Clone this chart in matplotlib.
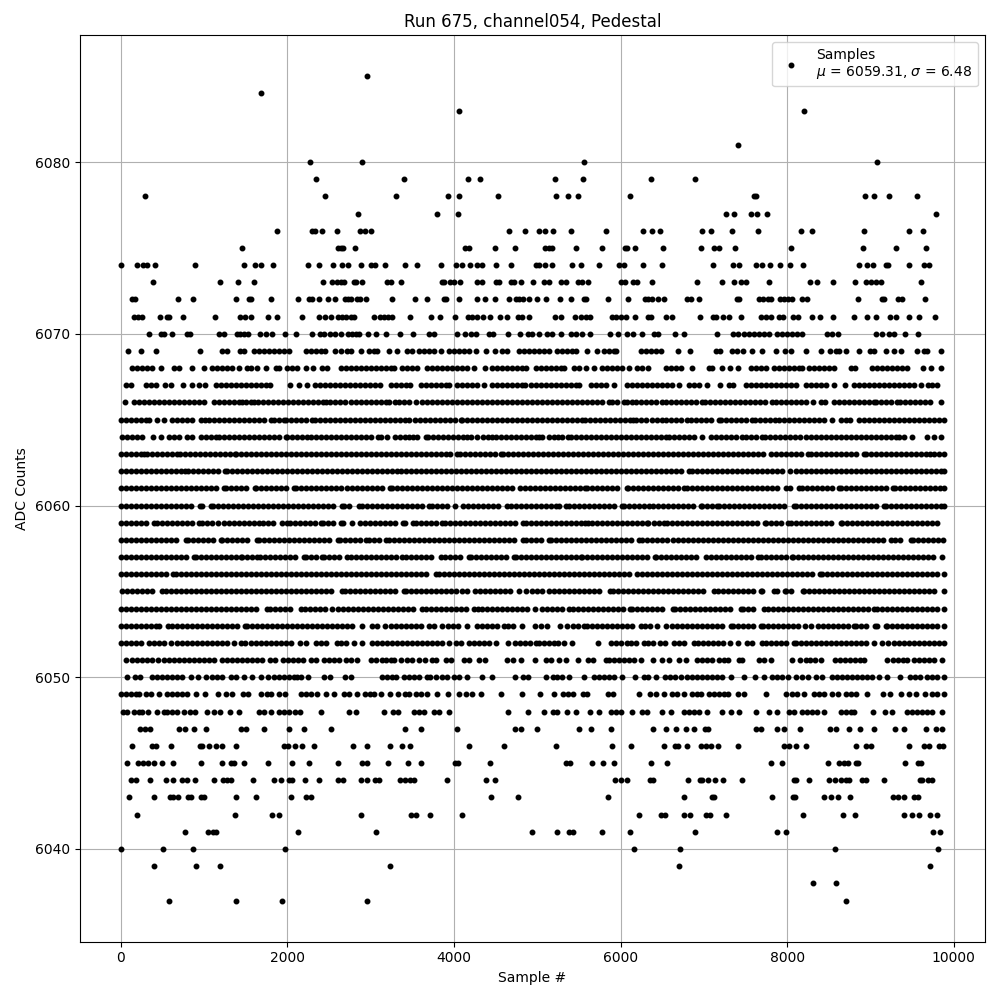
import numpy as np
import matplotlib
matplotlib.use('Agg')
import matplotlib.pyplot as plt

# Amostras, uma lista por nivel de ADC
s6085 = [2960]
s6084 = [1688]
s6083 = [4064, 8204]
s6081 = [7412]
s6080 = [2276, 2900, 5564, 9080]
s6079 = [2348, 3404, 4172, 4316, 5216, 5552, 6368, 6896]
s6078 = [296, 2456, 3308, 3932, 4064, 4532, 5228, 5372, 5492, 6116, 7604, 7624, 8936, 9044, 9224, 9560]
s6077 = [2852, 3800, 4052, 7268, 7364, 7568, 7640, 7760, 9788]
s6076 = [1880, 2300, 2332, 2420, 2600, 2876, 2928, 3008, 4664, 4856, 5024, 5096, 5192, 5408, 5828, 6272, 6380, 6476, 6980, 7088, 7340, 7652, 8168, 8300, 8924, 9464, 9632]
s6075 = [1460, 2612, 2644, 2668, 2816, 4136, 4184, 4496, 4736, 5096, 5140, 5180, 5468, 5780, 6052, 6072, 6176, 6512, 6968, 7124, 7184, 7376, 8048, 8912, 9308, 9668]
s6074 = [0, 200, 272, 320, 416, 896, 1484, 1616, 1688, 1832, 2252, 2384, 2552, 2660, 2732, 2888, 3008, 3056, 3176, 3416, 3560, 3848, 4028, 4100, 4196, 4280, 4340, 4500, 4688, 4980, 5020, 5096, 5180, 5420, 5528, 5744, 5984, 6044, 6272, 6500, 7112, 7352, 7420, 7628, 7700, 7796, 7916, 8036, 8192, 8864, 8960, 9032, 9180, 9212, 9464, 9644, 9704]
s6073 = [392, 1196, 1412, 1604, 2432, 2540, 2600, 2648, 2680, 2804, 2828, 2900, 3200, 3248, 3368, 3860, 3884, 3956, 4004, 4076, 4280, 4340, 4500, 4540, 4680, 4720, 4808, 4952, 5084, 5144, 5288, 5348, 5492, 5540, 5612, 6008, 6048, 6152, 6192, 6380, 6920, 7220, 7364, 7448, 7508, 7784, 8276, 8360, 8552, 8816, 8948, 9008, 9060, 9128, 9608]
s6072 = [140, 172, 684, 872, 1388, 1544, 1568, 1808, 2132, 2264, 2300, 2384, 2492, 2576, 2696, 2732, 2768, 2840, 2872, 2948, 3260, 3532, 3680, 3884, 3908, 4064, 4280, 4376, 4496, 4660, 4740, 4780, 4832, 4904, 4996, 5108, 5276, 5404, 5564, 5588, 5852, 6092, 6296, 6332, 6380, 6452, 6520, 6800, 6848, 6944, 7400, 7420, 7664, 7712, 7772, 7808, 7916, 7964, 8012, 8060, 8180, 8240, 8852, 9140, 9164, 9332, 9380, 9656]
s6071 = [160, 212, 260, 476, 560, 584, 752, 1136, 1436, 1496, 1568, 1772, 1880, 2180, 2384, 2456, 2528, 2612, 2660, 2700, 2768, 2800, 3044, 3116, 3164, 3212, 3260, 3476, 3728, 3836, 4016, 4172, 4220, 4280, 4352, 4436, 4556, 4640, 4772, 4820, 4900, 5216, 5288, 5456, 5528, 5588, 5636, 5900, 5948, 6000, 6068, 6176, 6332, 6364, 6548, 6620, 6956, 7112, 7148, 7232, 7304, 7448, 7688, 7748, 7808, 7904, 7952, 8072, 8132, 8300, 8392, 8552, 8804, 8960, 9068, 9236, 9308, 9464, 9584, 9776]
s6070 = [344, 488, 524, 620, 800, 836, 1184, 1244, 1400, 1436, 1484, 1532, 1676, 1748, 1820, 1976, 2108, 2300, 2396, 2444, 2516, 2576, 2648, 2732, 2780, 2828, 2864, 2972, 3068, 3188, 3356, 3512, 3704, 3764, 4040, 4136, 4208, 4268, 4424, 4472, 4652, 4796, 4892, 4940, 5020, 5120, 5180, 5280, 5400, 5460, 5540, 5636, 5876, 5964, 6080, 6152, 6260, 6404, 6452, 6656, 6764, 7160, 7352, 7412, 7484, 7544, 7604, 7664, 7724, 7784, 7880, 7940, 8000, 8060, 8120, 8180, 8480, 8540, 8612, 9060, 9140, 9220, 9280, 9412, 9572]
s6069 = [92, 240, 428, 956, 1220, 1280, 1432, 1484, 1600, 1660, 1720, 1780, 1840, 1900, 1960, 2020, 2220, 2280, 2340, 2400, 2452, 2572, 2640, 2720, 2768, 2880, 2980, 3040, 3080, 3220, 3320, 3440, 3500, 3580, 3640, 3700, 3760, 3840, 3940, 4000, 4060, 4120, 4180, 4260, 4380, 4488, 4580, 4640, 4780, 4840, 4900, 4960, 5020, 5080, 5140, 5240, 5300, 5360, 5420, 5460, 5600, 5712, 5800, 5860, 5920, 5948, 6240, 6300, 6360, 6420, 6480, 6692, 6836, 7140, 7188, 7340, 7400, 7472, 7572, 7692, 7860, 7972, 8040, 8220, 8408, 8512, 8580, 8620, 8700, 8860, 8988, 9040, 9188, 9284, 9368, 9560, 9640, 9680, 9848]
s6068 = [140, 200, 260, 320, 380, 488, 640, 700, 860, 1004, 1100, 1160, 1220, 1280, 1340, 1420, 1520, 1560, 1640, 1748, 1860, 1900, 2000, 2060, 2120, 2220, 2312, 2420, 2472, 2640, 2700, 2760, 2820, 2880, 2940, 3000, 3060, 3120, 3180, 3240, 3280, 3380, 3440, 3500, 3560, 3680, 3740, 3800, 3860, 3920, 3980, 4040, 4100, 4160, 4240, 4368, 4460, 4520, 4580, 4640, 4700, 4760, 4820, 4860, 4980, 5040, 5100, 5160, 5220, 5280, 5320, 5440, 5500, 5580, 5680, 5780, 5840, 5900, 5960, 6020, 6100, 6200, 6260, 6332, 6548, 6600, 6660, 6720, 6860, 7060, 7100, 7212, 7312, 7412, 7560, 7620, 7680, 7740, 7840, 7900, 7960, 8020, 8080, 8140, 8180, 8260, 8320, 8380, 8440, 8500, 8560, 8760, 8812, 9020, 9080, 9140, 9200, 9260, 9320, 9380, 9440, 9632, 9720, 9840]
s6067 = [60, 120, 300, 360, 420, 532, 600, 752, 860, 940, 1016, 1140, 1200, 1260, 1320, 1380, 1440, 1500, 1560, 1620, 1680, 1740, 1792, 2036, 2144, 2240, 2332, 2392, 2452, 2512, 2572, 2632, 2692, 2752, 2812, 2872, 2932, 2992, 3052, 3108, 3240, 3300, 3360, 3420, 3468, 3600, 3660, 3720, 3780, 3840, 3900, 3940, 4040, 4100, 4160, 4220, 4280, 4360, 4452, 4512, 4572, 4632, 4692, 4752, 4812, 4852, 4920, 4980, 5040, 5100, 5160, 5220, 5280, 5340, 5400, 5460, 5500, 5640, 5700, 5760, 5820, 5920, 6080, 6140, 6200, 6260, 6320, 6380, 6440, 6500, 6560, 6620, 6700, 6820, 6880, 6940, 7040, 7188, 7300, 7348, 7500, 7560, 7620, 7680, 7740, 7800, 7860, 7920, 7980, 8040, 8100, 8220, 8280, 8340, 8400, 8460, 8564, 8692, 8800, 8860, 8920, 8980, 9040, 9100, 9160, 9220, 9280, 9340, 9400, 9460, 9520, 9608, 9692, 9740, 9800]
s6066 = [48, 160, 220, 280, 340, 400, 460, 520, 580, 640, 700, 760, 820, 880, 940, 1000, 1116, 1180, 1240, 1300, 1360, 1420, 1460, 1500, 1560, 1600, 1652, 1712, 1772, 1832, 1892, 1952, 2012, 2072, 2132, 2192, 2252, 2312, 2372, 2432, 2460, 2508, 2568, 2628, 2688, 2760, 2820, 2880, 2940, 3000, 3060, 3120, 3180, 3220, 3288, 3340, 3400, 3460, 3540, 3612, 3672, 3732, 3792, 3852, 3912, 3972, 4032, 4092, 4152, 4212, 4272, 4332, 4392, 4452, 4512, 4572, 4632, 4692, 4752, 4812, 4872, 4932, 4992, 5052, 5112, 5172, 5240, 5292, 5352, 5412, 5472, 5532, 5592, 5652, 5712, 5772, 5860, 5900, 5960, 6040, 6080, 6140, 6180, 6240, 6300, 6360, 6420, 6500, 6540, 6600, 6660, 6720, 6780, 6840, 6900, 6980, 7012, 7072, 7132, 7192, 7252, 7312, 7372, 7432, 7492, 7552, 7612, 7672, 7732, 7812, 7860, 7920, 7980, 8040, 8100, 8160, 8220, 8308, 8400, 8452, 8560, 8620, 8680, 8740, 8800, 8860, 8920, 8980, 9040, 9060, 9120, 9180, 9240, 9320, 9348, 9408, 9468, 9528, 9588, 9648, 9712, 9840]
s6065 = [0, 60, 120, 180, 240, 300, 340, 440, 520, 620, 680, 740, 800, 852, 960, 1012, 1060, 1120, 1180, 1240, 1300, 1360, 1420, 1480, 1540, 1600, 1660, 1720, 1800, 1840, 1900, 1960, 1988, 2048, 2108, 2168, 2228, 2292, 2332, 2392, 2452, 2512, 2572, 2632, 2692, 2752, 2812, 2872, 2932, 2992, 3052, 3112, 3172, 3232, 3292, 3352, 3412, 3460, 3528, 3588, 3648, 3708, 3768, 3828, 3888, 3948, 4008, 4080, 4100, 4160, 4220, 4280, 4340, 4400, 4460, 4520, 4580, 4640, 4700, 4760, 4820, 4880, 4940, 5000, 5060, 5120, 5180, 5240, 5300, 5360, 5420, 5480, 5532, 5572, 5632, 5692, 5752, 5812, 5872, 5932, 5992, 6052, 6112, 6148, 6180, 6240, 6300, 6380, 6440, 6500, 6540, 6600, 6660, 6720, 6800, 6840, 6900, 6960, 7020, 7080, 7180, 7200, 7260, 7320, 7380, 7440, 7500, 7580, 7612, 7672, 7732, 7792, 7852, 7900, 7964, 8020, 8080, 8140, 8200, 8260, 8320, 8380, 8440, 8532, 8640, 8700, 8756, 8860, 8920, 8980, 9040, 9100, 9160, 9220, 9280, 9340, 9400, 9460, 9520, 9580, 9640, 9700, 9760, 9820, 9880]
s6064 = [12, 72, 132, 192, 260, 388, 488, 580, 640, 700, 800, 860, 960, 1020, 1080, 1140, 1180, 1240, 1300, 1360, 1420, 1480, 1540, 1600, 1660, 1720, 1780, 1840, 1900, 1980, 2000, 2060, 2120, 2180, 2240, 2288, 2348, 2408, 2468, 2528, 2588, 2648, 2708, 2768, 2828, 2888, 2948, 3008, 3092, 3120, 3200, 3292, 3352, 3412, 3460, 3512, 3560, 3660, 3692, 3752, 3812, 3872, 3932, 3992, 4052, 4112, 4160, 4200, 4280, 4352, 4412, 4460, 4500, 4560, 4620, 4680, 4740, 4800, 4860, 4920, 4980, 5020, 5060, 5140, 5200, 5252, 5300, 5372, 5400, 5460, 5520, 5580, 5640, 5700, 5760, 5820, 5880, 5940, 6000, 6060, 6120, 6180, 6240, 6300, 6360, 6420, 6480, 6540, 6580, 6640, 6700, 6760, 6820, 6880, 6980, 7080, 7140, 7200, 7260, 7320, 7380, 7452, 7500, 7560, 7620, 7700, 7732, 7792, 7852, 7912, 7972, 8032, 8092, 8152, 8220, 8280, 8348, 8408, 8468, 8528, 8588, 8648, 8708, 8768, 8828, 8888, 8948, 9008, 9068, 9128, 9188, 9248, 9300, 9340, 9400, 9500, 9680, 9760, 9840]
s6063 = [0, 60, 120, 180, 240, 280, 312, 372, 432, 492, 552, 612, 680, 708, 768, 828, 888, 948, 1008, 1068, 1128, 1188, 1248, 1308, 1372, 1388, 1448, 1508, 1568, 1628, 1688, 1748, 1808, 1868, 1928, 1988, 2048, 2108, 2168, 2228, 2288, 2348, 2408, 2468, 2528, 2588, 2648, 2700, 2760, 2820, 2880, 2940, 3000, 3060, 3120, 3180, 3240, 3300, 3360, 3420, 3480, 3540, 3600, 3660, 3720, 3780, 3840, 3900, 3948, 4040, 4068, 4128, 4188, 4248, 4308, 4368, 4428, 4488, 4560, 4588, 4648, 4708, 4768, 4828, 4888, 4948, 5008, 5068, 5128, 5188, 5248, 5308, 5368, 5428, 5488, 5548, 5608, 5668, 5728, 5788, 5848, 5908, 5968, 6028, 6088, 6148, 6208, 6268, 6328, 6388, 6448, 6508, 6568, 6628, 6688, 6748, 6808, 6868, 6928, 6988, 7048, 7108, 7168, 7228, 7288, 7348, 7408, 7468, 7528, 7588, 7648, 7708, 7800, 7868, 7928, 7988, 8048, 8108, 8168, 8252, 8280, 8340, 8400, 8460, 8520, 8580, 8640, 8700, 8760, 8820, 8920, 8948, 9008, 9068, 9128, 9188, 9248, 9308, 9368, 9428, 9488, 9548, 9608, 9668, 9712, 9760, 9820, 9880]
s6062 = [0, 60, 120, 180, 240, 300, 360, 420, 480, 540, 600, 660, 720, 768, 812, 872, 932, 992, 1052, 1112, 1172, 1252, 1280, 1340, 1400, 1460, 1520, 1580, 1640, 1700, 1760, 1820, 1880, 1940, 2000, 2060, 2120, 2180, 2240, 2300, 2360, 2420, 2480, 2540, 2600, 2660, 2720, 2780, 2840, 2900, 2960, 3020, 3080, 3140, 3200, 3260, 3320, 3360, 3420, 3480, 3540, 3600, 3660, 3720, 3780, 3840, 3900, 3960, 4020, 4080, 4140, 4200, 4260, 4320, 4380, 4440, 4500, 4560, 4620, 4680, 4740, 4800, 4860, 4920, 4980, 5040, 5100, 5160, 5220, 5280, 5340, 5400, 5460, 5520, 5580, 5640, 5700, 5760, 5820, 5880, 5940, 6000, 6060, 6120, 6180, 6240, 6300, 6360, 6420, 6480, 6540, 6600, 6660, 6720, 6820, 6852, 6912, 6972, 7032, 7092, 7152, 7212, 7272, 7332, 7392, 7452, 7512, 7572, 7632, 7692, 7752, 7812, 7872, 7932, 8028, 8100, 8160, 8220, 8280, 8340, 8400, 8460, 8520, 8580, 8640, 8700, 8760, 8820, 8880, 8940, 9000, 9060, 9120, 9180, 9240, 9300, 9360, 9420, 9480, 9540, 9600, 9660, 9720, 9780, 9840, 9880]
s6061 = [0, 60, 120, 180, 240, 300, 360, 420, 480, 540, 600, 660, 720, 780, 840, 900, 960, 1020, 1080, 1140, 1240, 1268, 1328, 1388, 1448, 1508, 1612, 1628, 1688, 1748, 1808, 1868, 1928, 1988, 2080, 2108, 2168, 2228, 2288, 2348, 2408, 2468, 2528, 2588, 2648, 2720, 2772, 2832, 2892, 2952, 3012, 3072, 3132, 3228, 3260, 3320, 3380, 3440, 3500, 3560, 3620, 3680, 3740, 3800, 3860, 3920, 3980, 4040, 4100, 4160, 4220, 4280, 4340, 4400, 4460, 4520, 4580, 4640, 4700, 4788, 4852, 4912, 4972, 5032, 5092, 5152, 5212, 5272, 5332, 5392, 5452, 5512, 5572, 5600, 5660, 5720, 5780, 5840, 5900, 5960, 6072, 6092, 6152, 6212, 6272, 6332, 6392, 6452, 6512, 6572, 6632, 6692, 6760, 6800, 6860, 6920, 6980, 7040, 7100, 7160, 7220, 7280, 7340, 7400, 7460, 7520, 7580, 7640, 7700, 7760, 7820, 7880, 7980, 8028, 8140, 8172, 8232, 8292, 8352, 8412, 8472, 8532, 8620, 8640, 8700, 8760, 8820, 8880, 8940, 9000, 9060, 9120, 9180, 9268, 9292, 9352, 9412, 9472, 9532, 9592, 9652, 9712, 9772, 9832, 9880]
s6060 = [0, 60, 120, 180, 240, 300, 360, 420, 480, 540, 600, 660, 720, 780, 840, 952, 972, 1088, 1112, 1172, 1232, 1292, 1352, 1412, 1472, 1532, 1592, 1652, 1712, 1772, 1832, 1892, 1952, 2012, 2072, 2132, 2192, 2252, 2312, 2372, 2432, 2492, 2552, 2660, 2680, 2740, 2860, 2900, 2960, 3020, 3080, 3140, 3200, 3260, 3320, 3380, 3440, 3500, 3560, 3620, 3700, 3740, 3800, 3860, 3920, 4012, 4108, 4168, 4228, 4288, 4348, 4408, 4468, 4528, 4640, 4680, 4740, 4800, 4860, 4920, 4980, 5040, 5100, 5160, 5220, 5260, 5348, 5380, 5440, 5500, 5560, 5620, 5680, 5740, 5800, 5860, 5920, 6020, 6040, 6100, 6160, 6220, 6280, 6340, 6392, 6452, 6512, 6572, 6632, 6692, 6752, 6812, 6872, 6960, 6980, 7040, 7100, 7160, 7180, 7240, 7300, 7360, 7420, 7480, 7540, 7600, 7660, 7720, 7780, 7840, 7900, 7960, 8080, 8100, 8160, 8220, 8280, 8340, 8400, 8460, 8520, 8580, 8640, 8700, 8760, 8820, 8880, 8940, 9000, 9060, 9160, 9180, 9240, 9300, 9360, 9420, 9480, 9540, 9600, 9660, 9720, 9780, 9840, 9880]
s6059 = [0, 60, 120, 180, 240, 300, 400, 440, 500, 560, 620, 680, 740, 800, 860, 940, 980, 1040, 1100, 1164, 1244, 1304, 1364, 1424, 1484, 1544, 1604, 1660, 1712, 1772, 1832, 1932, 2000, 2032, 2092, 2152, 2212, 2272, 2332, 2400, 2432, 2492, 2552, 2640, 2668, 2780, 2868, 2928, 2988, 3048, 3108, 3168, 3228, 3288, 3388, 3412, 3508, 3548, 3608, 3668, 3728, 3788, 3860, 3888, 3948, 4008, 4068, 4128, 4188, 4248, 4308, 4368, 4428, 4488, 4548, 4608, 4668, 4728, 4828, 4860, 4920, 4980, 5040, 5100, 5160, 5220, 5280, 5340, 5400, 5460, 5520, 5572, 5608, 5660, 5720, 5780, 5840, 5900, 5960, 6020, 6080, 6140, 6200, 6260, 6320, 6332, 6400, 6460, 6520, 6560, 6620, 6680, 6740, 6800, 6860, 6920, 6980, 7040, 7100, 7160, 7220, 7280, 7340, 7400, 7460, 7520, 7580, 7640, 7732, 7748, 7808, 7868, 7928, 8012, 8048, 8108, 8168, 8228, 8288, 8348, 8408, 8468, 8528, 8644, 8660, 8720, 8780, 8840, 8900, 8960, 9020, 9080, 9140, 9200, 9260, 9320, 9380, 9440, 9500, 9560, 9620, 9680, 9740, 9800]
s6058 = [0, 60, 120, 180, 240, 300, 360, 420, 480, 540, 600, 660, 780, 812, 872, 932, 992, 1052, 1112, 1200, 1220, 1280, 1340, 1400, 1460, 1520, 1640, 1660, 1720, 1780, 1840, 1900, 1960, 2020, 2080, 2140, 2200, 2260, 2320, 2380, 2440, 2500, 2612, 2628, 2688, 2748, 2808, 2868, 2948, 2980, 3040, 3100, 3188, 3220, 3280, 3340, 3400, 3460, 3520, 3580, 3640, 3700, 3760, 3820, 3880, 3940, 4000, 4060, 4120, 4180, 4240, 4300, 4360, 4420, 4480, 4540, 4600, 4660, 4720, 4828, 4860, 4920, 4980, 5040, 5140, 5160, 5220, 5280, 5340, 5400, 5460, 5520, 5580, 5640, 5700, 5760, 5820, 5880, 5940, 6000, 6060, 6120, 6220, 6260, 6320, 6380, 6440, 6500, 6560, 6628, 6688, 6748, 6808, 6868, 6928, 6988, 7048, 7108, 7168, 7228, 7288, 7348, 7408, 7468, 7528, 7588, 7648, 7708, 7768, 7828, 7888, 7948, 8008, 8068, 8128, 8188, 8248, 8308, 8368, 8428, 8488, 8548, 8608, 8668, 8728, 8788, 8848, 8908, 8968, 9028, 9088, 9148, 9240, 9288, 9348, 9480, 9508, 9568, 9628, 9688, 9748, 9808, 9868]
s6057 = [0, 60, 120, 180, 240, 300, 360, 420, 480, 540, 600, 660, 720, 780, 880, 908, 960, 1020, 1080, 1140, 1200, 1260, 1320, 1380, 1440, 1460, 1520, 1580, 1640, 1668, 1728, 1788, 1848, 1908, 1968, 2028, 2088, 2200, 2220, 2280, 2340, 2412, 2444, 2504, 2564, 2624, 2720, 2760, 2820, 2880, 2940, 3000, 3060, 3120, 3180, 3240, 3300, 3380, 3428, 3488, 3548, 3608, 3668, 3728, 3840, 3888, 3948, 4008, 4068, 4180, 4200, 4260, 4320, 4380, 4440, 4500, 4560, 4620, 4720, 4748, 4808, 4868, 4928, 4988, 5048, 5108, 5168, 5228, 5288, 5348, 5408, 5468, 5520, 5540, 5600, 5660, 5720, 5780, 5840, 5900, 5960, 6020, 6080, 6140, 6200, 6260, 6320, 6412, 6428, 6488, 6548, 6608, 6668, 6728, 6788, 6848, 6908, 7020, 7080, 7140, 7200, 7260, 7320, 7380, 7440, 7500, 7560, 7652, 7688, 7748, 7808, 7868, 7928, 7988, 8052, 8072, 8132, 8192, 8252, 8312, 8372, 8432, 8492, 8552, 8612, 8672, 8732, 8792, 8852, 8912, 8972, 9032, 9092, 9152, 9212, 9272, 9332, 9392, 9452, 9512, 9572, 9632, 9692, 9752, 9860]
s6056 = [0, 60, 120, 180, 240, 300, 360, 420, 480, 540, 628, 660, 720, 780, 840, 900, 960, 1020, 1080, 1140, 1200, 1260, 1320, 1380, 1440, 1500, 1560, 1620, 1680, 1740, 1800, 1860, 1920, 1980, 2040, 2100, 2160, 2220, 2280, 2340, 2400, 2460, 2520, 2580, 2640, 2700, 2760, 2820, 2880, 2940, 3000, 3060, 3120, 3180, 3240, 3300, 3360, 3420, 3480, 3540, 3600, 3660, 3780, 3820, 3880, 3940, 4000, 4060, 4120, 4180, 4240, 4300, 4360, 4420, 4480, 4540, 4600, 4660, 4720, 4780, 4840, 4900, 4960, 5020, 5080, 5140, 5200, 5260, 5320, 5380, 5440, 5500, 5560, 5620, 5680, 5740, 5800, 5860, 5920, 5980, 6040, 6100, 6200, 6252, 6312, 6372, 6432, 6492, 6552, 6612, 6672, 6732, 6792, 6852, 6912, 6972, 7032, 7092, 7152, 7212, 7272, 7332, 7392, 7452, 7512, 7572, 7632, 7692, 7752, 7812, 7872, 7932, 7992, 8052, 8112, 8172, 8232, 8292, 8392, 8420, 8480, 8540, 8600, 8660, 8720, 8780, 8840, 8900, 8960, 9020, 9080, 9140, 9200, 9260, 9320, 9380, 9440, 9500, 9560, 9620, 9680, 9740, 9800, 9880]
s6055 = [12, 72, 132, 192, 252, 312, 372, 492, 540, 600, 660, 720, 780, 840, 900, 960, 1020, 1080, 1140, 1200, 1260, 1320, 1380, 1440, 1500, 1560, 1620, 1680, 1740, 1800, 1860, 1920, 1980, 2040, 2100, 2160, 2220, 2280, 2340, 2400, 2460, 2520, 2660, 2688, 2748, 2808, 2868, 2928, 2988, 3048, 3108, 3168, 3228, 3288, 3400, 3420, 3480, 3540, 3600, 3660, 3720, 3780, 3840, 3900, 3960, 4020, 4092, 4160, 4248, 4308, 4368, 4428, 4488, 4548, 4608, 4668, 4780, 4860, 4940, 5000, 5060, 5140, 5200, 5260, 5320, 5380, 5440, 5500, 5560, 5620, 5680, 5740, 5872, 5908, 5968, 6028, 6088, 6148, 6208, 6268, 6328, 6388, 6448, 6508, 6568, 6628, 6688, 6748, 6808, 6868, 6928, 6988, 7120, 7172, 7232, 7292, 7352, 7412, 7472, 7532, 7592, 7680, 7700, 7840, 7880, 7972, 7988, 8048, 8188, 8200, 8260, 8320, 8380, 8440, 8500, 8560, 8620, 8680, 8740, 8800, 8860, 8920, 8980, 9040, 9100, 9160, 9220, 9280, 9340, 9400, 9460, 9520, 9580, 9640, 9700, 9760, 9880]
s6054 = [0, 60, 120, 180, 240, 300, 360, 420, 480, 540, 600, 660, 720, 780, 840, 900, 960, 1020, 1080, 1140, 1200, 1260, 1320, 1380, 1440, 1500, 1560, 1620, 1752, 1788, 1848, 1908, 1968, 2028, 2160, 2208, 2268, 2328, 2388, 2448, 2540, 2612, 2672, 2732, 2792, 2852, 2912, 2972, 3032, 3092, 3152, 3212, 3272, 3332, 3392, 3452, 3512, 3620, 3660, 3720, 3780, 3840, 3900, 3960, 4020, 4080, 4140, 4240, 4292, 4340, 4400, 4460, 4520, 4580, 4640, 4700, 4760, 4820, 4880, 4972, 5052, 5112, 5172, 5232, 5292, 5380, 5432, 5492, 5552, 5612, 5672, 5732, 5792, 5852, 5912, 5972, 6032, 6112, 6140, 6200, 6260, 6320, 6380, 6440, 6500, 6628, 6648, 6708, 6768, 6828, 6888, 6948, 7008, 7068, 7128, 7188, 7248, 7308, 7440, 7472, 7532, 7592, 7720, 7764, 7824, 7884, 7944, 8004, 8064, 8124, 8184, 8244, 8304, 8364, 8424, 8484, 8544, 8604, 8664, 8724, 8784, 8844, 8904, 8964, 9040, 9080, 9140, 9200, 9260, 9320, 9380, 9440, 9500, 9560, 9620, 9680, 9740, 9800, 9880]
s6053 = [0, 60, 120, 180, 240, 300, 360, 420, 460, 572, 612, 672, 732, 792, 852, 912, 972, 1032, 1092, 1152, 1212, 1272, 1332, 1392, 1492, 1520, 1580, 1640, 1700, 1760, 1820, 1880, 1940, 2000, 2060, 2120, 2180, 2240, 2300, 2360, 2420, 2480, 2540, 2600, 2660, 2720, 2780, 2900, 3012, 3072, 3172, 3248, 3308, 3368, 3428, 3488, 3548, 3608, 3700, 3756, 3852, 3932, 3992, 4052, 4160, 4280, 4340, 4400, 4460, 4520, 4600, 4652, 4712, 4812, 4972, 5040, 5120, 5268, 5360, 5428, 5488, 5560, 5600, 5660, 5720, 5780, 5840, 5900, 5960, 6020, 6080, 6140, 6240, 6288, 6348, 6432, 6548, 6612, 6672, 6732, 6792, 6852, 6912, 6972, 7032, 7092, 7152, 7212, 7320, 7348, 7408, 7468, 7528, 7588, 7680, 7712, 7772, 7832, 7892, 7952, 8012, 8072, 8132, 8212, 8280, 8372, 8432, 8492, 8552, 8612, 8672, 8732, 8800, 8820, 8880, 8940, 9052, 9080, 9180, 9200, 9260, 9320, 9380, 9440, 9500, 9560, 9620, 9680, 9740, 9800, 9880]
s6052 = [0, 60, 120, 180, 240, 340, 400, 460, 520, 600, 680, 740, 800, 860, 920, 980, 1040, 1100, 1160, 1220, 1280, 1360, 1440, 1488, 1560, 1628, 1688, 1748, 1808, 1868, 1928, 1988, 2048, 2152, 2220, 2340, 2400, 2460, 2600, 2640, 2700, 2800, 2900, 3020, 3080, 3140, 3200, 3260, 3320, 3380, 3440, 3500, 3560, 3620, 3680, 3740, 3800, 3860, 3940, 4020, 4080, 4180, 4240, 4300, 4360, 4420, 4500, 4652, 4732, 4792, 4852, 4912, 4980, 5020, 5080, 5140, 5200, 5252, 5320, 5412, 5732, 5880, 5940, 6000, 6080, 6120, 6180, 6280, 6332, 6392, 6468, 6528, 6640, 6700, 6760, 6880, 6932, 6992, 7052, 7112, 7172, 7232, 7312, 7412, 7520, 7580, 7692, 7740, 7800, 7860, 7920, 7980, 8080, 8100, 8160, 8220, 8280, 8340, 8400, 8460, 8520, 8580, 8640, 8700, 8760, 8820, 8880, 8940, 9044, 9140, 9212, 9280, 9340, 9400, 9460, 9520, 9580, 9640, 9700, 9760, 9820, 9880]
s6051 = [60, 140, 200, 260, 320, 380, 452, 520, 580, 640, 700, 760, 820, 880, 940, 1000, 1060, 1120, 1220, 1280, 1340, 1400, 1460, 1520, 1580, 1640, 1700, 1788, 1848, 1948, 2008, 2068, 2128, 2188, 2280, 2340, 2440, 2500, 2560, 2620, 2700, 2760, 2840, 3000, 3060, 3132, 3188, 3248, 3280, 3360, 3440, 3500, 3580, 3652, 3740, 3780, 3900, 3960, 4120, 4180, 4300, 4368, 4640, 4708, 4808, 4976, 5100, 5160, 5264, 5348, 5492, 5612, 5668, 5828, 5860, 5920, 5980, 6040, 6100, 6160, 6240, 6388, 6492, 6580, 6700, 6780, 6920, 6980, 7040, 7100, 7180, 7240, 7288, 7420, 7460, 7660, 7720, 7808, 8060, 8148, 8220, 8268, 8328, 8400, 8572, 8632, 8692, 8752, 8812, 8872, 8920, 9200, 9268, 9328, 9388, 9440, 9520, 9580, 9640, 9700, 9760, 9860]
s6050 = [80, 172, 228, 380, 440, 500, 560, 620, 680, 740, 840, 932, 1028, 1100, 1160, 1220, 1320, 1388, 1480, 1580, 1688, 1772, 1840, 1900, 1960, 2020, 2080, 2120, 2160, 2252, 2440, 2512, 2688, 2760, 3132, 3192, 3252, 3300, 3400, 3460, 3520, 3580, 3680, 3708, 3788, 3860, 3920, 4000, 4060, 4160, 4340, 4460, 4736, 4832, 4892, 5100, 5188, 5240, 5300, 5384, 5560, 5680, 5740, 5800, 5860, 5920, 6012, 6176, 6280, 6332, 6420, 6532, 6592, 6652, 6720, 6800, 6860, 6920, 6980, 7040, 7100, 7160, 7220, 7320, 7484, 7612, 7724, 7812, 7872, 7932, 8012, 8108, 8180, 8252, 8348, 8420, 8532, 8592, 8652, 8712, 8772, 8832, 8892, 8952, 9012, 9100, 9200, 9352, 9468, 9528, 9588, 9680, 9740, 9800, 9880]
s6049 = [0, 68, 128, 180, 224, 300, 360, 460, 560, 620, 680, 740, 800, 900, 1012, 1172, 1260, 1340, 1472, 1532, 1688, 1760, 1800, 1904, 1972, 2160, 2220, 2280, 2360, 2460, 2556, 2684, 2740, 2832, 2928, 2988, 3044, 3124, 3236, 3332, 3408, 3464, 3540, 3600, 3680, 3796, 3932, 4064, 4148, 4220, 4324, 4568, 4820, 5028, 5204, 5312, 5372, 5432, 5552, 5600, 5852, 5912, 6224, 6356, 6420, 6520, 6620, 6680, 6760, 6860, 6920, 6968, 7060, 7120, 7180, 7240, 7292, 7412, 7484, 7744, 7988, 8060, 8120, 8200, 8320, 8380, 8440, 8540, 8612, 8708, 8768, 8820, 8960, 9152, 9236, 9368, 9464, 9540, 9656, 9740, 9800, 9880]
s6048 = [28, 76, 160, 220, 260, 324, 440, 520, 560, 620, 680, 760, 832, 892, 1040, 1120, 1196, 1316, 1420, 1660, 1720, 1800, 1900, 1960, 2020, 2092, 2148, 2408, 2740, 2820, 3164, 3272, 3332, 3520, 3580, 3640, 3760, 3820, 3944, 4652, 4892, 5076, 5192, 5240, 5360, 5468, 5636, 5744, 5880, 5940, 6008, 6140, 6260, 6320, 6500, 6600, 6760, 6820, 6880, 6940, 7040, 7220, 7328, 7420, 7628, 7780, 7880, 8020, 8080, 8180, 8240, 8300, 8360, 8440, 8640, 8700, 8760, 8800, 9024, 9176, 9260, 9440, 9500, 9560, 9620, 9680, 9740, 9856]
s6047 = [232, 292, 348, 700, 768, 884, 1028, 1448, 1500, 1724, 2024, 2204, 2528, 3416, 3608, 4040, 4732, 4800, 5000, 5504, 5648, 5880, 6392, 6548, 6668, 6788, 6884, 7012, 7052, 7620, 7688, 7880, 7956, 8156, 8516, 8588, 8744, 8868, 9044, 9296, 9404, 9660, 9788, 9852]
s6046 = [140, 380, 420, 608, 948, 972, 1064, 1148, 1212, 1388, 1960, 2012, 2088, 2180, 2324, 2792, 2960, 3236, 3380, 3476, 4184, 4604, 5228, 5896, 6128, 6520, 6648, 6692, 6796, 6964, 7020, 7080, 7172, 7412, 7964, 8020, 8108, 8228, 8828, 8948, 9008, 9464, 9640, 9700, 9820, 9872]
s6045 = [80, 212, 272, 324, 404, 500, 632, 968, 1220, 1328, 1360, 1484, 1772, 2060, 2264, 2612, 2900, 2960, 3212, 3452, 3608, 4008, 4052, 4436, 5340, 5396, 5660, 5792, 5924, 6368, 6560, 7808, 7940, 8492, 8620, 8680, 8732, 8820, 8848, 9416, 9572, 9600]
s6044 = [128, 188, 356, 548, 632, 740, 796, 896, 1124, 1228, 1280, 1328, 1592, 1844, 1928, 2020, 2052, 2216, 2384, 2612, 2672, 2888, 2960, 3056, 3104, 3356, 3408, 3476, 3520, 3920, 4388, 4496, 5936, 6008, 6080, 6348, 6388, 6812, 6948, 6980, 7052, 7136, 7232, 7460, 8084, 8108, 8264, 8504, 8576, 8648, 8708, 8740, 8900, 8948, 9164, 9588, 9620, 9692, 9732]
s6043 = [104, 404, 588, 628, 692, 812, 844, 960, 1000, 1388, 1628, 2048, 2228, 2288, 4448, 4772, 5852, 6764, 7100, 7120, 7820, 8072, 8092, 8444, 8528, 8612, 8756, 9272, 9332, 9404, 9524, 9572]
s6042 = [200, 1376, 1820, 1904, 2888, 3488, 3548, 3716, 4100, 6224, 6488, 6528, 6764, 6836, 7028, 7076, 7268, 8192, 8672, 8816, 9404, 9500, 9584, 9716, 9800]
s6041 = [776, 1052, 1112, 1140, 2132, 3068, 4940, 5240, 5384, 5424, 5780, 6116, 6896, 7880, 7988, 9752, 9836]
s6040 = [8, 512, 872, 1976, 6164, 6716, 8576, 9812]
s6039 = [404, 908, 1196, 3236, 6704, 9716]
s6038 = [8312, 8588]
s6037 = [584, 1388, 1940, 2960, 8708]

niveis = {6085: s6085, 6084: s6084, 6083: s6083, 6081: s6081, 6080: s6080, 6079: s6079, 6078: s6078,
          6077: s6077, 6076: s6076, 6075: s6075, 6074: s6074, 6073: s6073, 6072: s6072, 6071: s6071,
          6070: s6070, 6069: s6069, 6068: s6068, 6067: s6067, 6066: s6066, 6065: s6065, 6064: s6064,
          6063: s6063, 6062: s6062, 6061: s6061, 6060: s6060, 6059: s6059, 6058: s6058, 6057: s6057,
          6056: s6056, 6055: s6055, 6054: s6054, 6053: s6053, 6052: s6052, 6051: s6051, 6050: s6050,
          6049: s6049, 6048: s6048, 6047: s6047, 6046: s6046, 6045: s6045, 6044: s6044, 6043: s6043,
          6042: s6042, 6041: s6041, 6040: s6040, 6039: s6039, 6038: s6038, 6037: s6037}

x = []
y = []
for nivel, amostras in niveis.items():
    x.extend(amostras)
    y.extend([nivel] * len(amostras))

plt.figure(figsize=(10, 10))
plt.plot(np.array(x), np.array(y), 'k.', markeredgewidth=1.25, label='Samples\n$\\mu$ = 6059.31, $\\sigma$ = 6.48')
plt.xlabel('Sample #')
plt.ylabel('ADC Counts')
plt.title('Run 675, channel054, Pedestal')
plt.grid(True)
plt.legend(loc='upper right')
plt.tight_layout()
plt.subplots_adjust(top=0.965)
plt.savefig('out.png', dpi=100)
